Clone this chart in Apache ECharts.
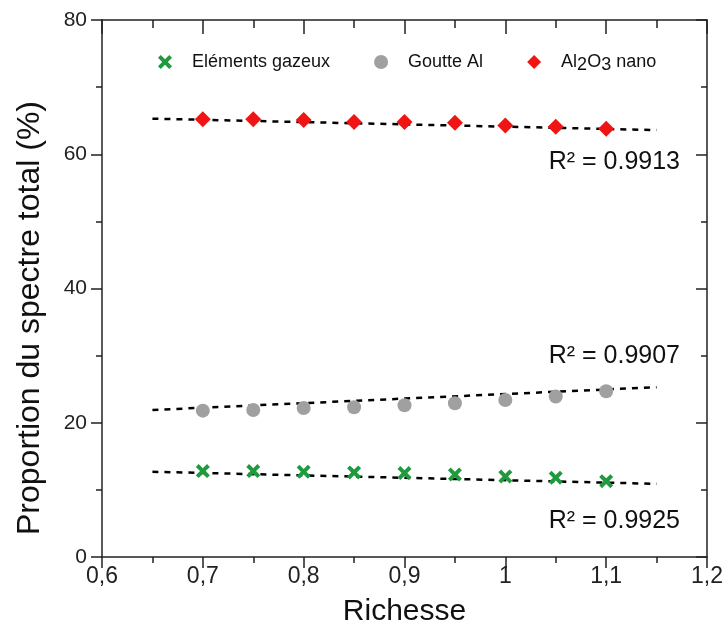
<!DOCTYPE html>
<html>
<head>
<meta charset="utf-8">
<script src="https://cdn.jsdelivr.net/npm/echarts@6/dist/echarts.min.js"></script>
<style>html,body{margin:0;padding:0;background:#fff}#c{width:726px;height:638px}</style>
</head>
<body>
<div id="c"></div>
<script>
var richesse = [0.7, 0.75, 0.8, 0.85, 0.9, 0.95, 1.0, 1.05, 1.1];
var gazeux = [12.8, 12.8, 12.7, 12.6, 12.5, 12.3, 12.0, 11.8, 11.3];
var goutte = [21.8, 21.9, 22.2, 22.3, 22.6, 22.9, 23.4, 23.9, 24.7];
var al2o3 = [65.2, 65.2, 65.1, 64.8, 64.8, 64.7, 64.3, 64.1, 63.8];
var trendX = [0.65, 1.15];
var trendGazeux = [12.7, 10.9];
var trendGoutte = [21.9, 25.3];
var trendAl2o3 = [65.3, 63.6];
var r2Labels = ['R² = 0.9913', 'R² = 0.9907', 'R² = 0.9925'];
var seriesNames = ['Eléments gazeux', 'Goutte Al', 'Al2O3 nano'];
var xTicks = ['0,6', '0,7', '0,8', '0,9', '1', '1,1', '1,2'];
var yTicks = ['0', '20', '40', '60', '80'];
var xTitle = 'Richesse';
var yTitle = 'Proportion du spectre total (%)';

function pairs(xs, ys) { return xs.map(function (x, i) { return [x, ys[i]]; }); }

var crossPath = 'path://M2,0 L5,3 L8,0 L10,2 L7,5 L10,8 L8,10 L5,7 L2,10 L0,8 L3,5 L0,2 Z';
var font = 'Liberation Sans';
var GREEN = '#1f9a3e', GRAY = '#a0a0a0', RED = '#f01414';

var chart = echarts.init(document.getElementById('c'));
function trend(ys) {
  return {
    type: 'line', data: pairs(trendX, ys), symbol: 'none', silent: true,
    lineStyle: { color: '#000', width: 2.5, type: [6, 6] }, z: 1
  };
}
var option = {
  backgroundColor: '#fff',
  animation: false,
  grid: { left: 102, right: 18, top: 20, bottom: 81 },
  xAxis: [{
    type: 'value', min: 0.6, max: 1.2, interval: 0.1, position: 'bottom',
    name: xTitle, nameLocation: 'middle', nameGap: 40,
    nameTextStyle: { fontFamily: font, fontSize: 30, color: '#111' },
    axisLine: { show: true, onZero: false, lineStyle: { color: '#222', width: 1.5 } },
    axisTick: { show: true, inside: false, length: 11, lineStyle: { color: '#222', width: 1.5 } },
    minorTick: { show: true, splitNumber: 2, length: 6, lineStyle: { color: '#222', width: 1.5 } },
    axisLabel: { fontFamily: font, fontSize: 23, color: '#222', margin: 8,
      formatter: function (v) { return xTicks[Math.round((v - 0.6) * 10)]; } },
    splitLine: { show: false }
  }, {
    type: 'value', min: 0.6, max: 1.2, interval: 0.1, position: 'top',
    axisLine: { show: true, onZero: false, lineStyle: { color: '#222', width: 1.5 } },
    axisTick: { show: true, inside: true, length: 14, lineStyle: { color: '#222', width: 1.5 } },
    minorTick: { show: true, splitNumber: 2, length: 8, lineStyle: { color: '#222', width: 1.5 } },
    axisLabel: { show: false }, splitLine: { show: false }
  }],
  yAxis: [{
    type: 'value', min: 0, max: 80, interval: 20, position: 'left',
    axisLine: { show: true, onZero: false, lineStyle: { color: '#222', width: 1.5 } },
    axisTick: { show: true, inside: false, length: 11, lineStyle: { color: '#222', width: 1.5 } },
    minorTick: { show: true, splitNumber: 2, length: 6, lineStyle: { color: '#222', width: 1.5 } },
    axisLabel: { fontFamily: font, fontSize: 21, color: '#222', margin: 15,
      formatter: function (v) { return yTicks[Math.round(v / 20)]; } },
    splitLine: { show: false }
  }, {
    type: 'value', min: 0, max: 80, interval: 20, position: 'right',
    axisLine: { show: true, onZero: false, lineStyle: { color: '#222', width: 1.5 } },
    axisTick: { show: true, inside: true, length: 11, lineStyle: { color: '#222', width: 1.5 } },
    minorTick: { show: true, splitNumber: 2, length: 6, lineStyle: { color: '#222', width: 1.5 } },
    axisLabel: { show: false }, splitLine: { show: false }
  }],
  legend: {
    top: 48, left: 153, itemGap: 44, itemWidth: 14, itemHeight: 14,
    textStyle: { fontFamily: font, fontSize: 18, color: '#111', padding: [0, 0, 0, 15],
      rich: { n: { fontFamily: font, fontSize: 18, color: '#111' },
              s: { fontFamily: font, fontSize: 18, color: '#111', padding: [6, 0, 0, 0] } } },
    formatter: function (name) {
      if (name === 'Al2O3 nano') return '{n|Al}{s|2}{n|O}{s|3}{n| nano}';
      return name;
    },
    data: [
      { name: seriesNames[0], icon: crossPath, itemStyle: { color: GREEN } },
      { name: seriesNames[1], icon: 'circle', itemStyle: { color: GRAY } },
      { name: seriesNames[2], icon: 'diamond', itemStyle: { color: RED } }
    ]
  },
  graphic: [
    { type: 'text', x: 30, y: 318, rotation: Math.PI / 2,
      style: { text: yTitle, fontFamily: font, fontSize: 32, fill: '#111', align: 'center', verticalAlign: 'middle' } },
    { type: 'text', right: 46, top: 150, style: { text: r2Labels[0], fontFamily: font, fontSize: 25, fill: '#111' } },
    { type: 'text', right: 46, top: 344, style: { text: r2Labels[1], fontFamily: font, fontSize: 25, fill: '#111' } },
    { type: 'text', right: 46, top: 509, style: { text: r2Labels[2], fontFamily: font, fontSize: 25, fill: '#111' } }
  ],
  series: [
    trend(trendGazeux), trend(trendGoutte), trend(trendAl2o3),
    { name: seriesNames[0], type: 'scatter', data: pairs(richesse, gazeux), symbol: crossPath, symbolSize: 14,
      itemStyle: { color: GREEN, opacity: 1 }, z: 3 },
    { name: seriesNames[1], type: 'scatter', data: pairs(richesse, goutte), symbol: 'circle', symbolSize: 14,
      itemStyle: { color: GRAY, opacity: 1 }, z: 3 },
    { name: seriesNames[2], type: 'scatter', data: pairs(richesse, al2o3), symbol: 'diamond', symbolSize: 16,
      itemStyle: { color: RED, opacity: 1 }, z: 3 }
  ]
};
chart.setOption(option);
</script>
</body>
</html>
